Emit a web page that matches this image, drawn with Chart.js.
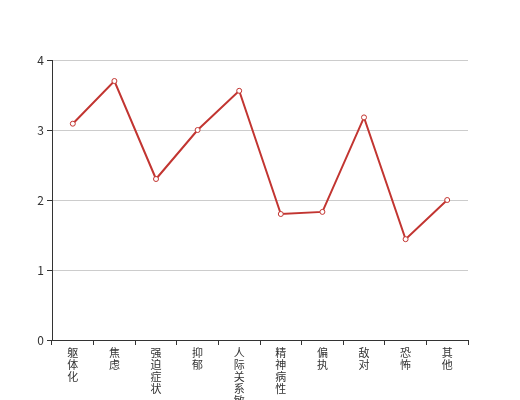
<!DOCTYPE html>
<html><head><meta charset="utf-8">
<script src="https://cdn.jsdelivr.net/npm/chart.js@4/dist/chart.umd.min.js"></script>
<style>html,body{margin:0;padding:0;background:#fff}#wrap{width:520px;height:400px}</style>
</head><body><div id="wrap"><canvas id="c" width="520" height="400"></canvas></div>
<script>
const categories = ['躯体化','焦虑','强迫症状','抑郁','人际关系敏感','精神病性','偏执','敌对','恐怖','其他'];
const values = [3.09, 3.70, 2.30, 3.00, 3.56, 1.80, 1.83, 3.18, 1.44, 2.00];
const yTicks = [0, 1, 2, 3, 4];

const labels = categories.map(s => s.split(''));
const font = {family: '"Noto Sans CJK SC", "Noto Sans", sans-serif', size: 12};
const xFont = {family: '"Noto Sans CJK SC", "Noto Sans", sans-serif', size: 11, lineHeight: 12 / 11};

new Chart(document.getElementById('c'), {
  type: 'line',
  data: {labels, datasets: [{
    data: values,
    borderColor: '#c23531',
    backgroundColor: '#fff',
    borderWidth: 2,
    pointRadius: 2.5,
    pointBorderWidth: 1,
    pointBackgroundColor: '#fff',
    pointBorderColor: '#c23531',
    tension: 0,
    fill: false
  }]},
  options: {
    responsive: false,
    animation: false,
    layout: {padding: {left: 0, right: 52, top: 60, bottom: 0}},
    plugins: {legend: {display: false}, tooltip: {enabled: false}},
    scales: {
      x: {
        type: 'category',
        offset: true,
        grid: {offset: true, drawOnChartArea: false, drawTicks: true, tickLength: 5, color: '#333'},
        border: {color: '#333', width: 1},
        ticks: {font: xFont, color: '#333', maxRotation: 0, minRotation: 0, autoSkip: false, padding: 2},
        afterFit(s) { s.height = 60; }
      },
      y: {
        min: 0, max: 4,
        afterBuildTicks(s) { s.ticks = yTicks.map(v => ({value: v})); },
        grid: {color: ctx => ctx.tick && ctx.tick.value === 0 ? 'rgba(0,0,0,0)' : '#ccc', drawTicks: true, tickLength: 5, tickColor: '#333'},
        border: {color: '#333', width: 1},
        ticks: {font, color: '#333', padding: 3},
        afterFit(s) { s.width = 52; }
      }
    }
  }
});
</script></body></html>
